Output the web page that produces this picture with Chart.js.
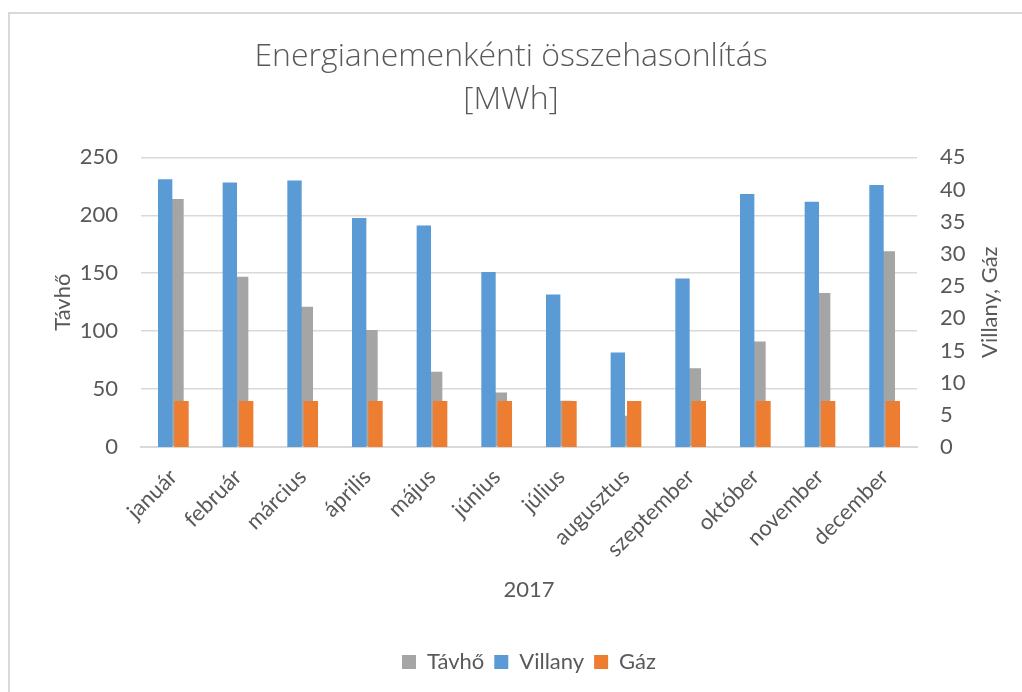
<!DOCTYPE html>
<html><head><meta charset="utf-8">
<script src="https://cdn.jsdelivr.net/npm/chart.js@4/dist/chart.umd.min.js"></script>
<style>
html,body{margin:0;padding:0;background:#fff;}
#wrap{position:absolute;left:0;top:0;width:1022px;height:692px;}
</style></head><body>
<div id="wrap"><canvas id="c" width="1022" height="692"></canvas></div>
<script>
const months = ['január','február','március','április','május','június','július','augusztus','szeptember','október','november','december'];
const tavho   = [214, 147, 121, 101, 65, 47, 40, 27, 68, 91, 133, 169];
const villany = [41.6, 41.1, 41.4, 35.6, 34.4, 27.2, 23.7, 14.7, 26.2, 39.3, 38.1, 40.7];
const gaz     = [7.15, 7.15, 7.15, 7.15, 7.15, 7.15, 7.15, 7.15, 7.15, 7.15, 7.15, 7.15];
const titleLines = ['Energianemenkénti összehasonlítás', '[MWh]'];
const xTitle = '2017';
const leftTitle = 'Távhő';
const rightTitle = 'Villany, Gáz';
const leftMax = 250, leftStep = 50;
const rightMax = 45, rightStep = 5;

const FONT = 'Lato, "Open Sans", sans-serif';
const TFONT = '"Open Sans", Lato, sans-serif';
const TXT = '#595959';
const GRID = '#d9d9d9';

const framePlugin = {
  id: 'frame',
  beforeDraw(chart) {
    const ctx = chart.ctx;
    ctx.save();
    ctx.fillStyle = '#fff';
    ctx.fillRect(0, 0, chart.width, chart.height);
    ctx.strokeStyle = GRID;
    ctx.lineWidth = 2;
    ctx.beginPath();
    ctx.moveTo(9, chart.height);
    ctx.lineTo(9, 13);
    ctx.lineTo(chart.width, 13);
    ctx.stroke();
    ctx.restore();
  }
};

const rightTitlePlugin = {
  id: 'rtitle',
  afterDraw(chart) {
    const ca = chart.chartArea;
    const s = chart.scales.y1;
    const ctx = chart.ctx;
    ctx.save();
    ctx.translate(s.left + 73, (ca.top + ca.bottom) / 2);
    ctx.rotate(-Math.PI / 2);
    ctx.font = '22px ' + FONT;
    ctx.fillStyle = TXT;
    ctx.textAlign = 'center';
    ctx.textBaseline = 'middle';
    ctx.fillText(rightTitle, 0, 0);
    ctx.restore();
  }
};

new Chart(document.getElementById('c'), {
  type: 'bar',
  data: {
    labels: months,
    datasets: [
      { label: 'Távhő', data: tavho, backgroundColor: '#A5A5A5', yAxisID: 'y', order: 2, grouped: false,
        categoryPercentage: 0.32, barPercentage: 1.0, borderWidth: 0 },
      { label: 'Villany', data: villany, backgroundColor: '#5B9BD5', yAxisID: 'y1', order: 1,
        categoryPercentage: 0.505, barPercentage: 0.88, borderWidth: 0 },
      { label: 'Gáz', data: gaz, backgroundColor: '#ED7D31', yAxisID: 'y1', order: 1,
        categoryPercentage: 0.505, barPercentage: 0.88, borderWidth: 0 }
    ]
  },
  options: {
    responsive: false,
    maintainAspectRatio: false,
    animation: false,
    devicePixelRatio: 1,
    layout: { padding: { left: 0, right: 0, top: 0, bottom: 9 } },
    scales: {
      x: {
        type: 'category', position: 'bottom', offset: true,
        grid: { display: false, offset: true },
        border: { display: true, color: GRID, width: 2 },
        ticks: { color: TXT, font: { family: FONT, size: 22 }, minRotation: 45, maxRotation: 45, autoSkip: false, padding: 9 },
        title: { display: true, text: xTitle, color: TXT, font: { family: FONT, size: 22 }, padding: { top: 0, bottom: 38 } },
        afterFit(s) { s.height = 194; }
      },
      y: {
        type: 'linear', position: 'left', min: 0, max: leftMax,
        ticks: { stepSize: leftStep, color: TXT, font: { family: FONT, size: 22 }, padding: 23 },
        grid: { color: GRID, lineWidth: 1.5, drawTicks: false },
        border: { display: false },
        title: { display: true, text: leftTitle, color: TXT, font: { family: FONT, size: 22 }, padding: { top: 50, bottom: 0 } },
        afterFit(s) { s.width = 141; }
      },
      y1: {
        type: 'linear', position: 'right', min: 0, max: rightMax,
        ticks: { stepSize: rightStep, color: TXT, font: { family: FONT, size: 22 }, padding: 23 },
        grid: { display: false, drawTicks: false },
        border: { display: false },
        afterFit(s) { s.width = 105; }
      }
    },
    plugins: {
      title: {
        display: true, text: titleLines, color: TXT,
        font: { family: TFONT, size: 32, weight: '300', lineHeight: 1.35 },
        padding: { top: 35, bottom: 36 }
      },
      legend: {
        display: true, position: 'bottom', fullSize: false,
        labels: {
          color: TXT, font: { family: FONT, size: 22 }, boxWidth: 14, boxHeight: 14, padding: 10,
          sort: (a, b) => a.datasetIndex - b.datasetIndex
        }
      },
      tooltip: { enabled: false }
    }
  },
  plugins: [framePlugin, rightTitlePlugin]
});
</script>
</body></html>
